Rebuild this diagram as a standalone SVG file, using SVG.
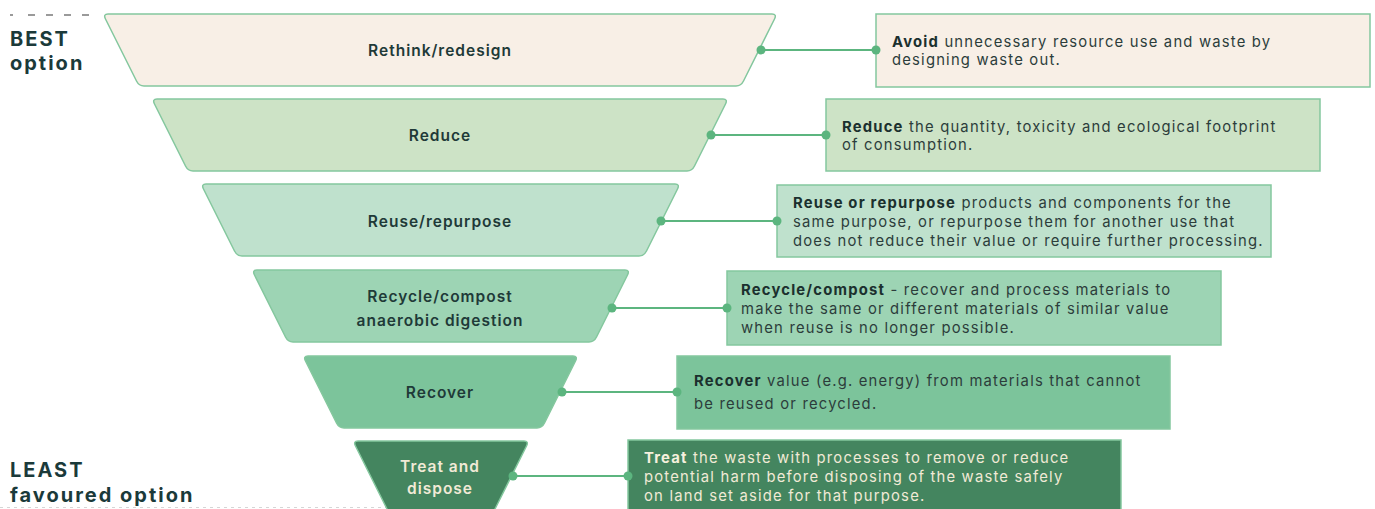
<svg xmlns="http://www.w3.org/2000/svg" width="1375" height="509" viewBox="0 0 1375 509">
<style>
.trap{stroke:#84c79e;stroke-width:1.5}
.box{stroke:#84c79e;stroke-width:1.5}
.lbl{font-family:Inter,"Open Sans","Liberation Sans",sans-serif;font-size:15.5px;letter-spacing:1px;font-weight:600;fill:#1f3a38;text-anchor:middle}
.lbl.lt{fill:#f1ead6}
.desc{font-family:Inter,"Open Sans","Liberation Sans",sans-serif;font-size:14.8px;letter-spacing:1.2px;fill:#2c3d3b}
.desc.lt{fill:#f1ead6}
.b{font-weight:700;fill:#1b302e}
.lt .b{fill:#f6f0dd}
.side{font-family:Inter,"Open Sans","Liberation Sans",sans-serif;font-size:20px;letter-spacing:2px;font-weight:700;fill:#1b3a3a}
.conn{stroke:#5cb57f;stroke-width:2;fill:none}
.dot{fill:#5cb57f}
.c1{fill:#f8efe6}.c2{fill:#cde3c6}.c3{fill:#bfe1cd}.c4{fill:#9dd4b4}.c5{fill:#7cc49b}.c6{fill:#44855f}
</style>
<rect width="1375" height="509" fill="#ffffff"/>
<g id="side-labels">
<line x1="10" y1="15" x2="96" y2="15" stroke="#9a9a9a" stroke-width="2" stroke-dasharray="3 15 7 11 7 11 7 11 7 11"/>
<text class="side" x="10" y="46">BEST</text>
<text class="side" x="10" y="70">option</text>
<text class="side" x="10" y="477">LEAST</text>
<text class="side" x="10" y="502">favoured option</text>
<line x1="0" y1="507.5" x2="390" y2="507.5" stroke="#d6d6d6" stroke-width="1" stroke-dasharray="3 4"/>
</g>
<g id="node-rethink">
<path class="trap c1" d="M108,14 h664 q5,0 2.5,5 l-31,62 q-2.5,5 -7.5,5 h-592 q-5,0 -7.5,-5 l-31,-62 q-2.5,-5 2.5,-5 z"/>
<text class="lbl" x="440" y="56">Rethink/redesign</text>
</g>
<g id="node-reduce">
<path class="trap c2" d="M157,99 h566 q5,0 2.5,5 l-31,62 q-2.5,5 -7.5,5 h-494 q-5,0 -7.5,-5 l-31,-62 q-2.5,-5 2.5,-5 z"/>
<text class="lbl" x="440" y="141">Reduce</text>
</g>
<g id="node-reuse">
<path class="trap c3" d="M206,184 h469 q5,0 2.5,5 l-31,62 q-2.5,5 -7.5,5 h-397 q-5,0 -7.5,-5 l-31,-62 q-2.5,-5 2.5,-5 z"/>
<text class="lbl" x="440" y="227">Reuse/repurpose</text>
</g>
<g id="node-recycle">
<path class="trap c4" d="M257,270 h368 q5,0 2.5,5 l-31,62 q-2.5,5 -7.5,5 h-296 q-5,0 -7.5,-5 l-31,-62 q-2.5,-5 2.5,-5 z"/>
<text class="lbl" x="440" y="302">Recycle/compost</text>
<text class="lbl" x="440" y="326">anaerobic digestion</text>
</g>
<g id="node-recover">
<path class="trap c5" d="M308,356 h265 q5,0 2.5,5 l-31,62 q-2.5,5 -7.5,5 h-193 q-5,0 -7.5,-5 l-31,-62 q-2.5,-5 2.5,-5 z"/>
<text class="lbl" x="440" y="398">Recover</text>
</g>
<g id="node-treat">
<path class="trap c6" d="M358,441 h166 q5,0 2.5,5 l-31,62 q-2.5,5 -7.5,5 h-94 q-5,0 -7.5,-5 l-31,-62 q-2.5,-5 2.5,-5 z"/>
<text class="lbl lt" x="440" y="472">Treat and</text>
<text class="lbl lt" x="440" y="494">dispose</text>
</g>
<g id="desc-rethink">
<rect class="box c1" x="876" y="14" width="494" height="73"/>
<text class="desc" x="892" y="47"><tspan class="b">Avoid</tspan> unnecessary resource use and waste by</text>
<text class="desc" x="892" y="65">designing waste out.</text>
</g>
<g id="desc-reduce">
<rect class="box c2" x="826" y="99" width="494" height="72"/>
<text class="desc" x="842" y="132"><tspan class="b">Reduce</tspan> the quantity, toxicity and ecological footprint</text>
<text class="desc" x="842" y="150">of consumption.</text>
</g>
<g id="desc-reuse">
<rect class="box c3" x="777" y="185" width="494" height="72"/>
<text class="desc" x="793" y="208"><tspan class="b">Reuse or repurpose</tspan> products and components for the</text>
<text class="desc" x="793" y="227">same purpose, or repurpose them for another use that</text>
<text class="desc" x="793" y="246">does not reduce their value or require further processing.</text>
</g>
<g id="desc-recycle">
<rect class="box c4" x="727" y="271" width="494" height="74"/>
<text class="desc" x="741" y="295"><tspan class="b">Recycle/compost</tspan> - recover and process materials to</text>
<text class="desc" x="741" y="314">make the same or different materials of similar value</text>
<text class="desc" x="741" y="333">when reuse is no longer possible.</text>
</g>
<g id="desc-recover">
<rect class="box c5" x="677" y="356" width="493" height="73"/>
<text class="desc" x="694" y="386"><tspan class="b">Recover</tspan> value (e.g. energy) from materials that cannot</text>
<text class="desc" x="694" y="409">be reused or recycled.</text>
</g>
<g id="desc-treat">
<rect class="box c6" x="628" y="440" width="493" height="75"/>
<text class="desc lt" x="644" y="463"><tspan class="b">Treat</tspan> the waste with processes to remove or reduce</text>
<text class="desc lt" x="644" y="482">potential harm before disposing of the waste safely</text>
<text class="desc lt" x="644" y="501">on land set aside for that purpose.</text>
</g>
<g id="connectors">
<line class="conn" x1="761" y1="50" x2="876" y2="50"/>
<circle class="dot" cx="761" cy="50" r="4.5"/><circle class="dot" cx="876" cy="50" r="4.5"/>
<line class="conn" x1="711" y1="135" x2="826" y2="135"/>
<circle class="dot" cx="711" cy="135" r="4.5"/><circle class="dot" cx="826" cy="135" r="4.5"/>
<line class="conn" x1="661" y1="221" x2="777" y2="221"/>
<circle class="dot" cx="661" cy="221" r="4.5"/><circle class="dot" cx="777" cy="221" r="4.5"/>
<line class="conn" x1="612" y1="308" x2="727" y2="308"/>
<circle class="dot" cx="612" cy="308" r="4.5"/><circle class="dot" cx="727" cy="308" r="4.5"/>
<line class="conn" x1="562" y1="392" x2="677" y2="392"/>
<circle class="dot" cx="562" cy="392" r="4.5"/><circle class="dot" cx="677" cy="392" r="4.5"/>
<line class="conn" x1="513" y1="476" x2="628" y2="476"/>
<circle class="dot" cx="513" cy="476" r="4.5"/><circle class="dot" cx="628" cy="476" r="4.5"/>
</g>
</svg>
